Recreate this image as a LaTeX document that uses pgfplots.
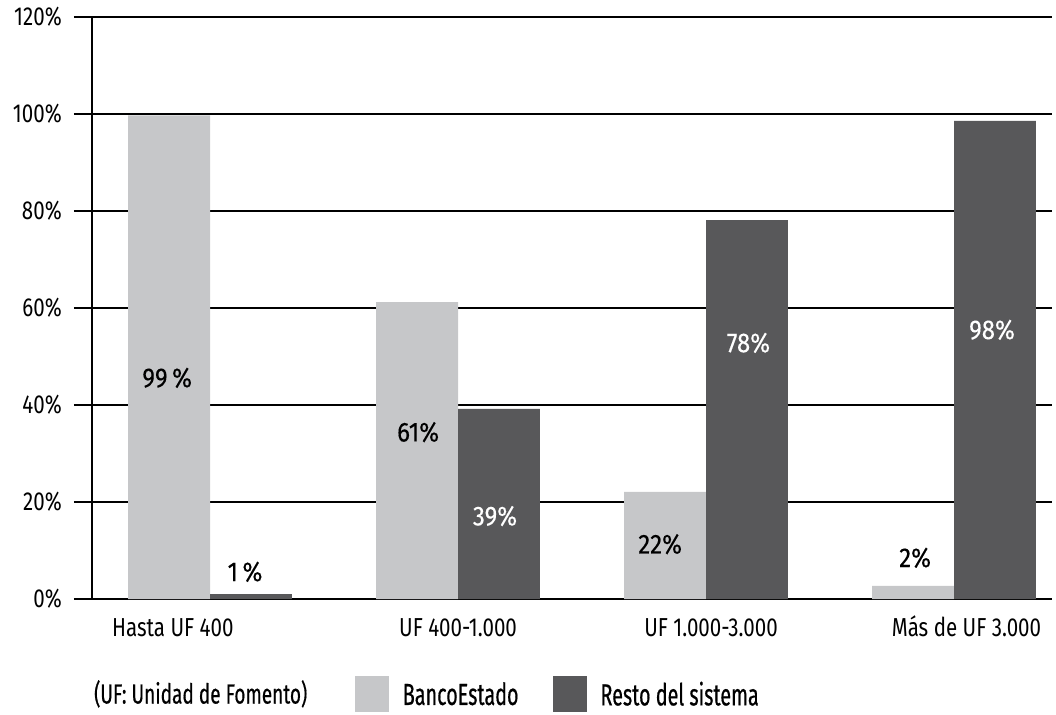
\documentclass[border=0pt]{standalone}
\usepackage{fontspec}
\setmainfont{Fira Sans}[FakeStretch=0.79]
\newfontfamily\barfont{Fira Sans}[FakeStretch=0.88, FakeBold=0.3]
\newfontfamily\ufont{Fira Sans}[FakeStretch=0.69, FakeBold=0.5]
\newfontfamily\legfont{Fira Sans}[FakeStretch=0.65, FakeBold=0.5]
\usepackage{pgfplots}
\pgfplotsset{compat=1.18}
\definecolor{claro}{HTML}{C6C7C9}
\definecolor{oscuro}{HTML}{58585A}
\newcommand{\fs}{\fontsize{19.5}{22}\selectfont}
\newcommand{\fb}{\barfont\fontsize{20.5}{23}\selectfont}
\newcommand{\fu}{\ufont\fontsize{20.7}{23}\selectfont}
\newcommand{\fl}{\legfont\fontsize{22.8}{26}\selectfont}

\begin{document}
\begin{tikzpicture}
\path[use as bounding box] (0,0) rectangle (792pt,535.5pt);
\begin{axis}[
  at={(69pt,86.25pt)}, anchor=south west,
  scale only axis, width=720pt, height=436.5pt,
  xmin=-0.476, xmax=3.395, ymin=0, ymax=120,
  ytick={0,20,...,120},
  yticklabel={\pgfmathprintnumber{\tick}\%},
  /pgf/number format/assume math mode=true,
  ymajorgrids, grid style={black, line width=1.5pt},
  axis x line*=bottom, axis y line*=left,
  axis line style={-},
  x axis line style={draw=none},
  y axis line style={black, line width=1.5pt},
  ytick style={black, line width=1.5pt},
  tick align=outside, major tick length=13.5pt,
  yticklabel style={font=\fs, inner sep=0pt, xshift=-9pt},
  xtick={-0.15,1,2.02,3.05},
  xticklabels={Hasta UF 400, UF 400-1.000, UF 1.000-3.000, Más de UF 3.000},
  xtick style={draw=none},
  xticklabel style={font=\fs, inner sep=0pt, anchor=base, yshift=-14.5pt},
  legend style={at={(axis description cs:0.27,-0.163)}, anchor=west,
    draw=none, fill=none, font=\fl, legend columns=2,
    /tikz/every odd column/.append style={column sep=8pt},
    /tikz/every even column/.append style={column sep=24pt}},
  legend cell align=left,
  clip=false,
]
\addplot[ybar, bar width=0.33, bar shift=-0.165, fill=claro, draw=none,
  legend image code/.code={\fill[claro] (0pt,-13pt) rectangle (25.5pt,14pt);}]
  coordinates {(0,99.7) (1,61.2) (2,22.1) (3,2.7)};
\addlegendentry{BancoEstado}
\addplot[ybar, bar width=0.33, bar shift=0.165, fill=oscuro, draw=none,
  legend image code/.code={\fill[oscuro] (0pt,-13pt) rectangle (25.5pt,14pt);}]
  coordinates {(0,1.0) (1,39.2) (2,78.1) (3,98.6)};
\addlegendentry{Resto del sistema}

\node[font=\fb] at (axis cs:-0.173,45.6) {99\,\%};
\node[font=\fb] at (axis cs:0.141,5.6) {1\,\%};
\node[font=\fb] at (axis cs:0.839,34.4) {61\%};
\node[font=\fb, white] at (axis cs:1.149,17.1) {39\%};
\node[font=\fb] at (axis cs:1.815,11.3) {22\%};
\node[font=\fb, white] at (axis cs:2.171,52.8) {78\%};
\node[font=\fb] at (axis cs:2.843,8.5) {2\%};
\node[font=\fb, white] at (axis cs:3.153,55.5) {98\%};

\node[font=\fu, anchor=west, inner sep=0pt] at (axis description cs:0.002,-0.163) {(UF: Unidad de Fomento)};
\end{axis}
\end{tikzpicture}
\end{document}
